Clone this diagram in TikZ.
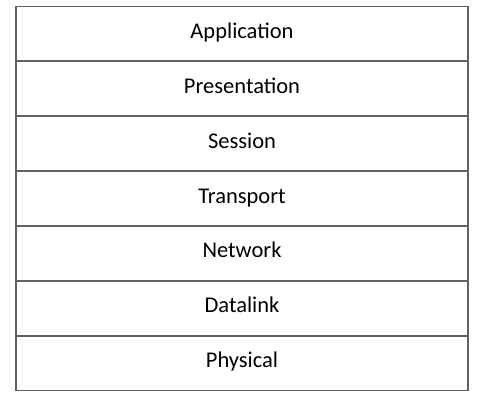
\documentclass[tikz,border=0pt]{standalone}
\usepackage{fontspec}
\setmainfont{Carlito}
\usetikzlibrary{positioning}

\begin{document}
\begin{tikzpicture}[x=1pt, y=1pt,
    layer/.style={draw=black!62, line width=1.8pt, minimum width=452pt, minimum height=54.86pt,
                  outer sep=0pt, inner sep=0pt, text height=12pt, text depth=3pt,
                  font=\fontsize{22.5}{26}\selectfont},
    node distance=0pt]
                        \useasboundingbox (0, 0) rectangle (484, -403);
                        \node[layer, anchor=north west] (app) at (16, -6.5) {Application};
                        \node[layer, below=of app] (pres) {Presentation};
                        \node[layer, below=of pres] (sess) {Session};
                        \node[layer, below=of sess] (trans) {Transport};
                        \node[layer, below=of trans] (net) {Network};
                        \node[layer, below=of net] (dl) {Datalink};
                        \node[layer, below=of dl] (phy) {Physical};
                    \end{tikzpicture}
\end{document}
